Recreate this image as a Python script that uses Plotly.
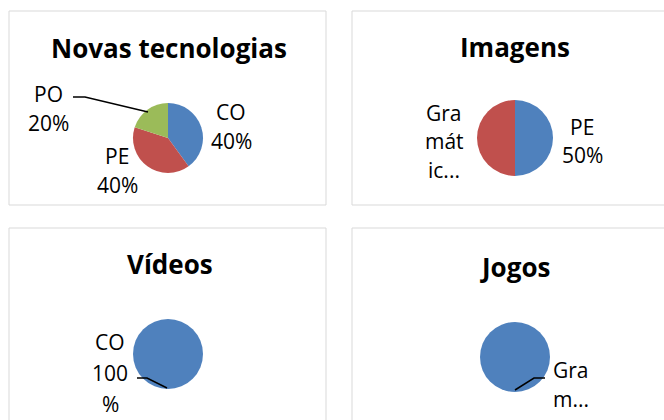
import plotly.graph_objects as go

W, H = 664, 420

# ---- data ----
novas_labels = ["CO", "PE", "PO"]
novas_values = [40, 40, 20]
imagens_labels = ["PE", "Gramática"]
imagens_values = [50, 50]
videos_labels = ["CO"]
videos_values = [100]
jogos_labels = ["Gramática"]
jogos_values = [100]

titles = ["Novas tecnologias", "Imagens", "Vídeos", "Jogos"]

BLUE, RED, GREEN = "#4F81BD", "#C0504D", "#9BBB59"
FONT = "Open Sans"


def px(x):
    return x / W


def py(y):
    return 1 - y / H


def dom(cx, cy, r):
    return dict(x=[px(cx - r), px(cx + r)], y=[py(cy + r), py(cy - r)])


def pct(values, i):
    return f"{round(100 * values[i] / sum(values))}%"


fig = go.Figure()

pies = [
    (novas_labels, novas_values, [BLUE, RED, GREEN], (168, 138, 35)),
    (imagens_labels, imagens_values, [BLUE, RED], (515, 138, 38)),
    (videos_labels, videos_values, [BLUE], (168, 354, 35)),
    (jogos_labels, jogos_values, [BLUE], (515, 357, 35)),
]
for labels, values, colors, (cx, cy, r) in pies:
    fig.add_trace(go.Pie(
        labels=labels, values=values, sort=False, direction="clockwise",
        rotation=0, textinfo="none", hoverinfo="label+percent",
        marker=dict(colors=colors, line=dict(width=0)),
        domain=dom(cx, cy, r), showlegend=False,
    ))

shapes = []
# panel borders
for x0, y0, x1, y1 in [(9, 11, 326, 205), (352, 11, 670, 205),
                       (9, 228, 326, 430), (352, 228, 670, 430)]:
    shapes.append(dict(type="rect", xref="paper", yref="paper",
                       x0=px(x0), y0=py(y1), x1=px(x1), y1=py(y0),
                       line=dict(color="#D9D9D9", width=1), layer="below"))

# leader lines
for pts in [[(73, 97), (85, 97), (148, 112)],
            [(137, 378), (147, 378), (167, 388)],
            [(515, 390), (534, 378), (545, 378)]]:
    path = "M " + " L ".join(f"{px(x)},{py(y)}" for x, y in pts)
    shapes.append(dict(type="path", xref="paper", yref="paper", path=path,
                       line=dict(color="black", width=1.5)))

annotations = []
title_pos = [(169, 48), (515, 47), (170, 264), (515, 267)]
for t, (x, y) in zip(titles, title_pos):
    annotations.append(dict(text=f"<b>{t}</b>", x=px(x), y=py(y), xref="paper", yref="paper",
                            showarrow=False, xanchor="center", yanchor="middle",
                            font=dict(family=FONT, size=26, color="black")))

label_lines = [
    ([novas_labels[0], pct(novas_values, 0)], 231, [112, 141]),
    ([novas_labels[1], pct(novas_values, 1)], 117, [156, 185]),
    ([novas_labels[2], pct(novas_values, 2)], 48, [94, 123]),
    (["Gra", "mát", "ic..."], 444, [113, 141, 170]),
    ([imagens_labels[0], pct(imagens_values, 0)], 582, [127, 155]),
    ([videos_labels[0], "100", "%"], 110, [342, 373, 404]),
    (["Gra", "m..."], 571, [370, 399]),
]
for lines, x, ys in label_lines:
    for s, y in zip(lines, ys):
        annotations.append(dict(text=s, x=px(x), y=py(y), xref="paper", yref="paper",
                                showarrow=False, xanchor="center", yanchor="middle",
                                font=dict(family=FONT, size=21, color="black")))

fig.update_layout(width=W, height=H, margin=dict(l=0, r=0, t=0, b=0),
                  paper_bgcolor="white", plot_bgcolor="white",
                  shapes=shapes, annotations=annotations)

fig.write_html("out.html", config={"displayModeBar": False},
               post_script="document.body.style.margin='0px';document.body.style.overflow='hidden';")
